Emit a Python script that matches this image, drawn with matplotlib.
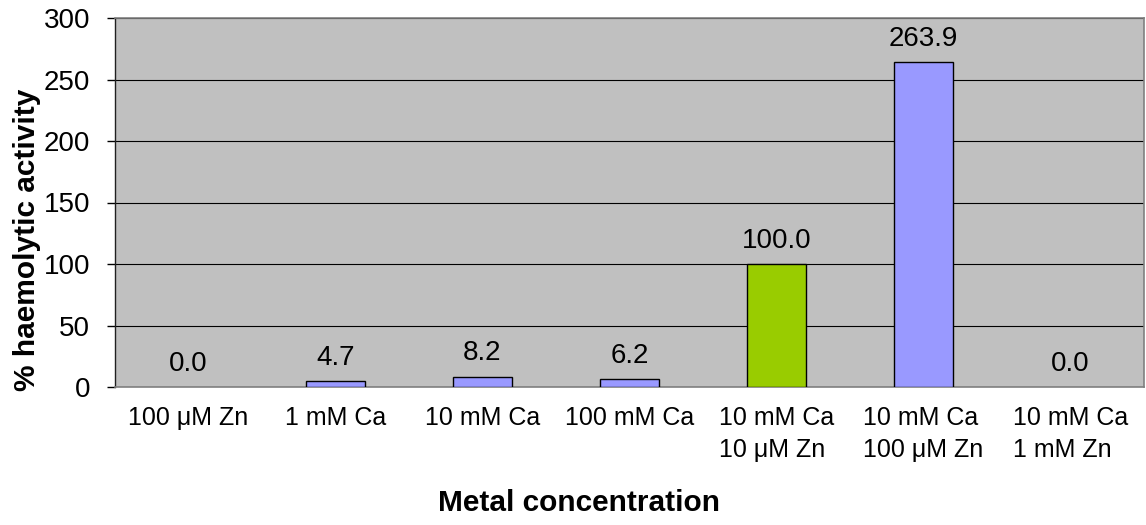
import matplotlib
matplotlib.use("Agg")
import matplotlib.pyplot as plt

plt.rcParams['font.family'] = ['Liberation Sans', 'DejaVu Sans']

categories = [
    "100 μM Zn",
    "1 mM Ca",
    "10 mM Ca",
    "100 mM Ca",
    "10 mM Ca\n10 μM Zn",
    "10 mM Ca\n100 μM Zn",
    "10 mM Ca\n1 mM Zn",
]
activity = [0.0, 4.7, 8.2, 6.2, 100.0, 263.9, 0.0]
bar_colors = ["#9999FF", "#9999FF", "#9999FF", "#9999FF", "#99CC00", "#9999FF", "#9999FF"]
y_ticks = [0, 50, 100, 150, 200, 250, 300]

W, H = 1146, 525
fig = plt.figure(figsize=(W / 100, H / 100), dpi=100)
ax = fig.add_axes([115 / W, (H - 387) / H, 1029 / W, 369 / H])
ax.set_facecolor("#C0C0C0")

x = list(range(len(categories)))
# zero-height bars get no outline so no stray line sits on the axis
edge_widths = [1.0 if v > 0 else 0.0 for v in activity]
bars = ax.bar(x, activity, width=0.4, color=bar_colors, edgecolor="black",
              linewidth=edge_widths, zorder=3)

for xi, v in zip(x, activity):
    ax.annotate(f"{v:.1f}", (xi, v), xytext=(0, 7.5), textcoords="offset points",
                ha="center", va="bottom", fontsize=20, color="black", zorder=4)

ax.set_xlim(-0.5, len(categories) - 0.5)
ax.set_ylim(0, 300)
ax.set_yticks(y_ticks)
ax.yaxis.grid(True, color="black", linewidth=0.8, zorder=1)
ax.set_axisbelow(True)

ax.set_xticks(x)
ax.set_xticklabels(categories, fontsize=18, multialignment="left", linespacing=1.4)
ax.tick_params(axis="x", length=0, pad=14)
ax.tick_params(axis="y", length=6, width=1, direction="out", pad=12, labelsize=20)

for side in ["top", "right", "bottom"]:
    ax.spines[side].set_color("#808080")
    ax.spines[side].set_linewidth(1.2)
ax.spines["left"].set_color("#202020")
ax.spines["left"].set_linewidth(1.0)

fig.text(27 / W, 1 - 240 / H, "% haemolytic activity", rotation=90,
         ha="center", va="center", fontsize=21.5, fontweight="bold")
fig.text(579 / W, 1 - 503 / H, "Metal concentration",
         ha="center", va="center", fontsize=21.5, fontweight="bold")

fig.savefig("out.png", dpi=100, facecolor="white")
